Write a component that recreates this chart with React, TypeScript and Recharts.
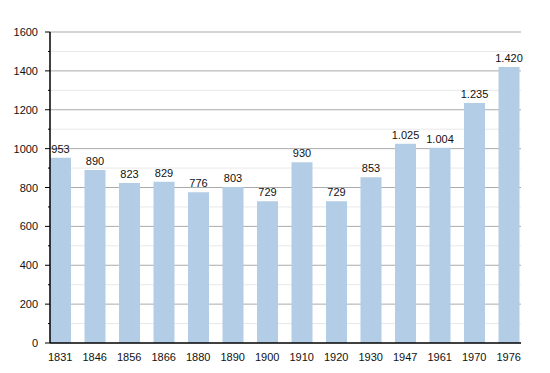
import { BarChart, Bar, XAxis, YAxis, CartesianGrid, LabelList } from 'recharts'

const years = ['1831', '1846', '1856', '1866', '1880', '1890', '1900', '1910', '1920', '1930', '1947', '1961', '1970', '1976']
const population = [953, 890, 823, 829, 776, 803, 729, 930, 729, 853, 1025, 1004, 1235, 1420]
const majorTicks = [200, 400, 600, 800, 1000, 1200, 1400, 1600]
const minorTicks = [100, 300, 500, 700, 900, 1100, 1300, 1500]
const allTicks = [0, 100, 200, 300, 400, 500, 600, 700, 800, 900, 1000, 1100, 1200, 1300, 1400, 1500, 1600]

const data = years.map((year, i) => ({ year, value: population[i] }))

// thousands with a dot, like the source
const fmt = (v: number) => String(v).replace(/\B(?=(\d{3})+(?!\d))/g, '.')

const YTick = ({ x, y, payload }: any) => {
  const major = payload.value % 200 === 0
  return (
    <g>
      <line x1={x - (major ? 5 : 2)} x2={x} y1={y} y2={y} stroke="#000" />
      {major && (
        <text x={x - 12} y={y} dy={4} textAnchor="end" fontSize={11} fill="#111">
          {payload.value}
        </text>
      )}
    </g>
  )
}

export default function App() {
  return (
    <div style={{ fontFamily: '"Liberation Sans", Arial, sans-serif' }}>
      <BarChart
        width={534}
        height={357}
        data={data}
        margin={{ top: 24, right: 21, left: 0, bottom: 2 }}
        barSize={21}
      >
        {/* light lines at the odd hundreds, darker ones at the labelled ticks */}
        <CartesianGrid vertical={false} horizontalValues={minorTicks} stroke="#e8e8e8" />
        <CartesianGrid vertical={false} horizontalValues={majorTicks} stroke="#ababab" />
        <XAxis
          dataKey="year"
          axisLine={{ stroke: '#000', strokeWidth: 1.5 }}
          tickLine={false}
          tick={{ fontSize: 11, fill: '#111' }}
          tickMargin={4}
          height={20}
          interval={0}
          padding={{ left: -7, right: -5 }}
        />
        <YAxis
          width={42}
          domain={[0, 1600]}
          ticks={allTicks}
          interval={0}
          tickSize={0}
          tickMargin={0}
          axisLine={{ stroke: '#000', strokeWidth: 1.5 }}
          tick={<YTick />}
        />
        <Bar dataKey="value" fill="#b3cde6" isAnimationActive={false}>
          <LabelList dataKey="value" position="top" offset={5} fontSize={11} fill="#111" formatter={fmt} />
        </Bar>
      </BarChart>
    </div>
  )
}
